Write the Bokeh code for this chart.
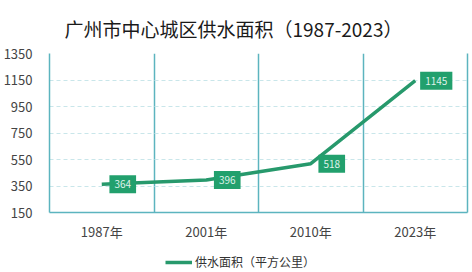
from bokeh.plotting import figure
from bokeh.models import ColumnDataSource, FixedTicker, Range1d, Legend, LegendItem, LinearAxis
from bokeh.layouts import column
from bokeh.core.properties import value
from bokeh.embed import file_html
from bokeh.resources import INLINE

title = "广州市中心城区供水面积（1987-2023）"
years = ["1987年", "2001年", "2010年", "2023年"]
area = [364, 396, 518, 1145]
series_name = "供水面积（平方公里）"
y_ticks = [150, 350, 550, 750, 950, 1150, 1350]

FONT = "Noto Sans CJK SC"
LINE_C = "#27996c"
BOX_C = "#22a06d"
AXIS_C = "#5cb4bf"

xs = [i + 0.5 for i in range(len(years))]
src = ColumnDataSource(dict(x=xs, y=area, t=[str(v) for v in area]))

p = figure(width=472, height=245, output_backend="svg", toolbar_location=None,
           x_range=Range1d(0, len(years)), y_range=Range1d(y_ticks[0], y_ticks[-1]),
           min_border_left=43, min_border_right=5, min_border_top=4, min_border_bottom=33)
p.outline_line_color = None
p.background_fill_color = "white"

p.title.text = title
p.title.align = "left"
p.title.offset = 15
p.title.text_font = FONT
p.title.text_font_size = "19px"
p.title.text_font_style = "normal"
p.title.text_color = "#1a1a1a"
p.title.standoff = 24

# x axis
p.xaxis.ticker = FixedTicker(ticks=xs)
p.xaxis.major_label_overrides = {x: y for x, y in zip(xs, years)}
p.xaxis.axis_line_color = AXIS_C
p.xaxis.axis_line_width = 1.5
p.xaxis.major_tick_line_color = None
p.xaxis.minor_tick_line_color = None
p.xaxis.major_label_text_font = FONT
p.xaxis.major_label_text_font_size = "13px"
p.xaxis.major_label_text_color = "#444444"
p.xaxis.major_label_standoff = 3

# y axis
p.yaxis.ticker = FixedTicker(ticks=y_ticks)
p.yaxis.axis_line_color = AXIS_C
p.yaxis.axis_line_width = 1.5
p.yaxis.major_tick_line_color = None
p.yaxis.minor_tick_line_color = None
p.yaxis.major_label_text_font = FONT
p.yaxis.major_label_text_font_size = "13px"
p.yaxis.major_label_text_color = "#444444"
p.yaxis.major_label_standoff = 11

right_axis = LinearAxis(ticker=FixedTicker(ticks=[]), axis_line_color=AXIS_C, axis_line_width=1.5,
                        major_tick_line_color=None, minor_tick_line_color=None,
                        major_label_text_font_size="0px")
p.add_layout(right_axis, "right")

# grids
p.xgrid.ticker = FixedTicker(ticks=list(range(1, len(years))))
p.xgrid.grid_line_color = AXIS_C
p.xgrid.grid_line_width = 1.5
p.ygrid.ticker = FixedTicker(ticks=y_ticks[1:])
p.ygrid.grid_line_color = "#c9e6ea"
p.ygrid.grid_line_dash = "4 3"
p.ygrid.grid_line_width = 1

line = p.line("x", "y", source=src, line_color=LINE_C, line_width=3.5)
p.text("x", "y", text="t", source=src, x_offset=21, anchor="center",
       text_font=value(FONT), text_font_size="10px", text_color="#dff2ea",
       background_fill_color=BOX_C, padding=5)

# legend strip
lf = figure(width=472, height=27, output_backend="svg", toolbar_location=None,
            min_border=0, x_range=Range1d(0, 1), y_range=Range1d(0, 1),
            x_axis_location=None, y_axis_location=None)
lf.grid.visible = False
lf.outline_line_color = None
sample = lf.line(x=[-1, -2], y=[-1, -2], line_color=LINE_C, line_width=3.5)
legend = Legend(items=[LegendItem(label=series_name, renderers=[sample])],
                location=(116, 2), orientation="horizontal",
                label_text_font=FONT, label_text_font_size="12px", label_text_color="#333333",
                glyph_width=27, glyph_height=10, label_standoff=3, padding=0, margin=0,
                border_line_color=None, background_fill_alpha=0)
lf.add_layout(legend, "center")

open("out.html", "w").write(file_html(column(p, lf, spacing=0), INLINE))
